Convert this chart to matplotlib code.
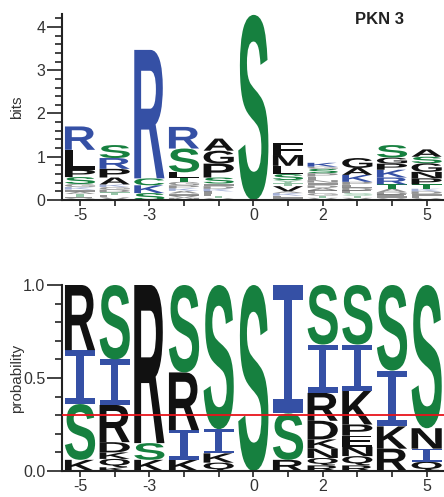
import matplotlib
matplotlib.use("Agg")
import matplotlib.pyplot as plt
from matplotlib.textpath import TextPath
from matplotlib.patches import PathPatch
from matplotlib.font_manager import FontProperties
from matplotlib.transforms import Affine2D

positions = [-5, -4, -3, -2, -1, 0, 1, 2, 3, 4, 5]
tick_labels = ["-5", "", "-3", "", "", "0", "", "2", "", "", "5"]

# top logo (bits): letters per column, listed bottom -> top
top_letters = ["VETAIKGSPLR", "VETDGKAPRS", "SKCR", "MVIAKPGTLSR", "VTELKDISPGA",
               "S", "IEKAVTYSLMF", "VTGEADINLPSGK", "VTSEDLPKAG", "VIEDATRKPGS",
               "VEIDKTPNGSA"]
top_heights = [
    [0.04, 0.04, 0.06, 0.05, 0.05, 0.06, 0.07, 0.16, 0.17, 0.46, 0.54],
    [0.06, 0.06, 0.06, 0.06, 0.06, 0.06, 0.16, 0.20, 0.25, 0.30],
    [0.16, 0.18, 0.16, 2.97],
    [0.05, 0.05, 0.05, 0.06, 0.06, 0.07, 0.08, 0.10, 0.12, 0.55, 0.50],
    [0.04, 0.05, 0.05, 0.06, 0.06, 0.06, 0.06, 0.14, 0.32, 0.30, 0.28],
    [4.28],
    [0.05, 0.05, 0.06, 0.04, 0.12, 0.07, 0.07, 0.14, 0.19, 0.25, 0.28],
    [0.05, 0.05, 0.06, 0.06, 0.06, 0.06, 0.06, 0.06, 0.08, 0.08, 0.10, 0.05, 0.09],
    [0.05, 0.05, 0.06, 0.06, 0.06, 0.07, 0.07, 0.16, 0.16, 0.23],
    [0.04, 0.04, 0.05, 0.05, 0.08, 0.10, 0.16, 0.18, 0.14, 0.14, 0.29],
    [0.04, 0.05, 0.05, 0.06, 0.06, 0.10, 0.14, 0.15, 0.20, 0.15, 0.17],
]

# bottom logo (probability): letters per column, bottom -> top
bot_letters = ["KSIR", "KQKDRIS", "KSR", "KIRS", "QKIS", "S", "RSI",
               "RQNKDRIS", "RQNEPKIS", "RKIS", "QINS"]
bot_heights = [
    [0.06, 0.30, 0.29, 0.35],
    [0.02, 0.045, 0.035, 0.055, 0.20, 0.245, 0.40],
    [0.06, 0.09, 0.85],
    [0.06, 0.16, 0.31, 0.47],
    [0.045, 0.05, 0.13, 0.775],
    [1.0],
    [0.06, 0.25, 0.69],
    [0.03, 0.04, 0.05, 0.05, 0.10, 0.15, 0.26, 0.32],
    [0.03, 0.05, 0.05, 0.06, 0.06, 0.18, 0.25, 0.32],
    [0.12, 0.12, 0.30, 0.46],
    [0.05, 0.07, 0.11, 0.77],
]
threshold = 0.3

GREEN = "#16803f"
BLUE = "#3550a5"
BLACK = "#111111"
top_colors = {"R": BLUE, "K": BLUE, "H": BLUE, "S": GREEN, "T": GREEN, "Y": GREEN, "C": GREEN}
bot_colors = {"S": GREEN, "I": BLUE}

font = FontProperties(family="Liberation Sans", weight="bold")
font_i = FontProperties(family="DejaVu Sans Mono")


def draw_letter(ax, ch, x, y, w, h, color, prop, alpha=1.0):
    tp = TextPath((0, 0), ch, size=1, prop=prop)
    bb = tp.get_extents()
    tr = Affine2D().translate(-bb.x0, -bb.y0).scale(w / bb.width, h / bb.height).translate(x - w / 2, y)
    ax.add_patch(PathPatch(tr.transform_path(tp), fc=color, ec="none", lw=0, alpha=alpha))


def style(ax):
    for s in ["top", "right"]:
        ax.spines[s].set_visible(False)
    for s in ["left", "bottom"]:
        ax.spines[s].set_linewidth(1.5)
        ax.spines[s].set_color("#222222")
    ax.set_xlim(-5.52, 5.5)
    ax.set_xticks(positions)
    ax.set_xticklabels(tick_labels, fontsize=11.5, color="#333333", family="Liberation Sans")
    ax.tick_params(axis="x", length=4, width=1.2, color="#222222", pad=2)
    ax.tick_params(axis="y", which="major", length=11, width=1.2, color="#222222", pad=1,
                   labelsize=11.5, labelcolor="#333333")
    ax.tick_params(axis="y", which="minor", length=5, width=1.2, color="#222222")
    for lab in ax.get_yticklabels():
        lab.set_family("Liberation Sans")


fig = plt.figure(figsize=(4.44, 4.97), dpi=100)
W, H = 444, 497
ax1 = fig.add_axes([62 / W, (H - 200) / H, 382 / W, 186 / H])
ax2 = fig.add_axes([62 / W, (H - 471) / H, 382 / W, 186 / H])

w = 0.87
for pos, letters, hs in zip(positions, top_letters, top_heights):
    y = 0
    for ch, h in zip(letters, hs):
        a = 0.45 if h < 0.09 else 1.0
        draw_letter(ax1, ch, pos, y, w, h, top_colors.get(ch, BLACK), font, a)
        y += h

for pos, letters, hs in zip(positions, bot_letters, bot_heights):
    y = 0
    for ch, h in zip(letters, hs):
        draw_letter(ax2, ch, pos, y, w, h, bot_colors.get(ch, BLACK), font_i if ch == "I" else font)
        y += h

ax2.axhline(threshold, color="#e8141b", lw=1.3, zorder=5)

ax1.set_ylim(0, 4.3)
ax1.set_yticks([0, 1, 2, 3, 4])
ax1.set_yticks([i * 0.2 for i in range(22)], minor=True)
ax1.set_ylabel("bits", fontsize=11, color="#333333", family="Liberation Sans")
ax1.yaxis.set_label_coords(-0.1, 0.5)
ax1.text(0.83, 0.97, "PKN 3", transform=ax1.transAxes, ha="center", va="center",
         fontsize=12, fontweight="bold", color="#222222", family="Liberation Sans")

ax2.set_ylim(0, 1.0)
ax2.set_yticks([0, 0.5, 1.0])
ax2.set_yticklabels(["0.0", "0.5", "1.0"])
ax2.set_yticks([i * 0.1 for i in range(11)], minor=True)
ax2.set_ylabel("probability", fontsize=11, color="#333333", family="Liberation Sans")
ax2.yaxis.set_label_coords(-0.1, 0.5)

style(ax1)
style(ax2)

fig.savefig("out.png", dpi=100)
